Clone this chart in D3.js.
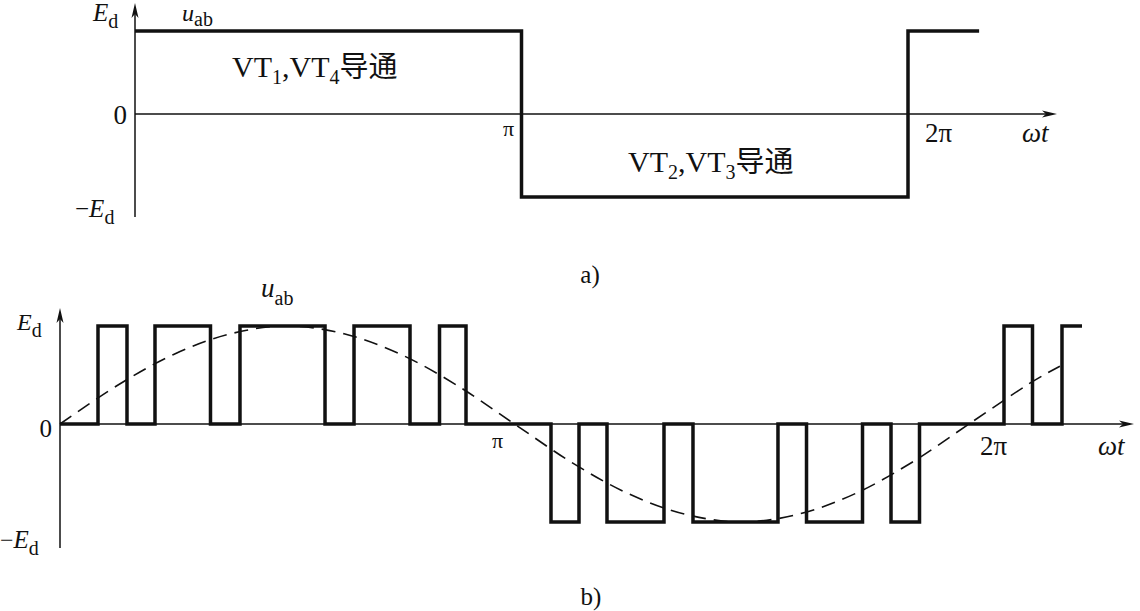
<!DOCTYPE html>
<html>
<head>
<meta charset="utf-8">
<script src="https://cdn.jsdelivr.net/npm/d3@7/dist/d3.min.js"></script>
<style>
  body { margin: 0; background: #fff; }
  svg { display: block; }
</style>
</head>
<body>
<div id="chart"></div>
<script>
// times are in units of π, levels in units of Ed

// a) square wave u_ab
const squareTimes = [0, 1, 2, 2.184];
const squareLevels = [1, -1, 1, 1];

// b) PWM wave u_ab (switching instants)
const pwmTimes = [0, 0.0836, 0.1474, 0.2090, 0.3311, 0.3960, 0.5831, 0.6469, 0.7701, 0.8350, 0.8933,
  1.0803, 1.1419, 1.2035, 1.3289, 1.3927, 1.5797, 1.6425, 1.7657, 1.8284, 1.8911,
  2.0770, 2.1397, 2.2046, 2.2486];
const pwmLevels = [0, 1, 0, 1, 0, 1, 0, 1, 0, 1, 0,
  -1, 0, -1, 0, -1, 0, -1, 0, -1, 0,
  1, 0, 1, 1];

// b) dashed modulating wave, read off every π/8
const refTimes = [0, 0.125, 0.25, 0.375, 0.5, 0.625, 0.75, 0.875, 1, 1.125, 1.25, 1.375, 1.5,
  1.625, 1.75, 1.875, 2, 2.125, 2.2];
const refValues = [0, 0.39, 0.71, 0.92, 1, 0.92, 0.71, 0.39, 0, -0.39, -0.71, -0.92, -1,
  -0.92, -0.71, -0.39, 0, 0.39, 0.59];

// labels
const xTickValues = [1, 2];
const xTickLabels = ['π', '2π'];
const topNotes = ['VT', '1', ',VT', '4', '导通'];
const bottomNotes = ['VT', '2', ',VT', '3', '导通'];

const W = 1140, H = 611;
const ink = '#111';
const serif = "'Liberation Serif', 'Times New Roman', Times, serif";
const cjk = "'Noto Sans CJK SC', 'Noto Sans CJK JP', sans-serif";

let svg = d3.select('#chart').append('svg')
  .attr('width', W)
  .attr('height', H);

// text helper: parts = [{t, s, i, dy, f}]
function label(g, x, y, parts, anchor) {
  let t = g.append('text')
    .attr('x', x)
    .attr('y', y)
    .attr('fill', ink)
    .attr('font-family', serif)
    .style('font-family', serif)
    .attr('text-anchor', anchor || 'start');
  parts.forEach(p => {
    let s = t.append('tspan')
      .text(p.t)
      .attr('font-size', p.s + 'px')
      .attr('dy', p.dy || 0);
    if (p.i) s.attr('font-style', 'italic');
    if (p.f) s.attr('font-family', p.f).style('font-family', p.f);
  });
  return t;
}

function arrow(g, x, y, dir) {
  // dir: 'up' or 'right'
  let p = dir === 'up'
    ? [[x, y], [x - 3.5, y + 15], [x, y + 11], [x + 3.5, y + 15]]
    : [[x, y], [x - 15, y - 3.5], [x - 11, y], [x - 15, y + 3.5]];
  g.append('path')
    .attr('d', 'M' + p.join('L') + 'Z')
    .attr('fill', ink);
}

function axes(g, x, y, yTop, yBottom, xEnd) {
  g.append('line')
    .attr('x1', x(0)).attr('x2', x(0))
    .attr('y1', yTop + 4).attr('y2', yBottom)
    .attr('stroke', ink).attr('stroke-width', 1.5);
  g.append('line')
    .attr('x1', x(0)).attr('x2', xEnd - 4)
    .attr('y1', y(0)).attr('y2', y(0))
    .attr('stroke', ink).attr('stroke-width', 1.5);
  arrow(g, x(0), yTop, 'up');
  arrow(g, xEnd, y(0), 'right');
}

const step = (x, y) => d3.line()
  .x(d => x(d[0]))
  .y(d => y(d[1]))
  .curve(d3.curveStepAfter);

// ---------- a) ----------
let ga = svg.append('g').attr('class', 'chart-a');
let xa = d3.scaleLinear().domain([0, 2]).range([135, 908]);
let ya = d3.scaleLinear().domain([-1, 1]).range([197, 31]);

axes(ga, xa, ya, 3, 217, 1057);

ga.append('path')
  .datum(d3.zip(squareTimes, squareLevels))
  .attr('d', step(xa, ya))
  .attr('fill', 'none')
  .attr('stroke', ink)
  .attr('stroke-width', 3.5)
  .attr('stroke-linejoin', 'miter');

// axis labels
label(ga, xa(0) - 42, ya(1) - 10, [{t: 'E', s: 25, i: true}, {t: 'd', s: 20, dy: 7}]);
label(ga, xa(0) + 47, 21, [{t: 'u', s: 24, i: true}, {t: 'ab', s: 20, dy: 5}]);
label(ga, xa(0) - 8, ya(0) + 10, [{t: '0', s: 27}], 'end');
label(ga, xa(0) - 60, ya(-1) + 20, [{t: '−', s: 25}, {t: 'E', s: 25, i: true}, {t: 'd', s: 20, dy: 7}]);
label(ga, xa(xTickValues[0]) - 13, ya(0) + 22, [{t: xTickLabels[0], s: 22}], 'middle');
label(ga, xa(xTickValues[1]) + 17, ya(0) + 28, [{t: xTickLabels[1], s: 27}]);
label(ga, xa(2) + 114, ya(0) + 28, [{t: 'ωt', s: 27, i: true}]);

// conduction notes
label(ga, 232, 77, [
  {t: topNotes[0], s: 30}, {t: topNotes[1], s: 20, dy: 7}, {t: topNotes[2], s: 30, dy: -7},
  {t: topNotes[3], s: 20, dy: 7}, {t: topNotes[4], s: 29, dy: -7, f: cjk}
]);
label(ga, 628, 172, [
  {t: bottomNotes[0], s: 30}, {t: bottomNotes[1], s: 20, dy: 7}, {t: bottomNotes[2], s: 30, dy: -7},
  {t: bottomNotes[3], s: 20, dy: 7}, {t: bottomNotes[4], s: 29, dy: -7, f: cjk}
]);

label(svg, 590, 283, [{t: 'a)', s: 25}], 'middle');

// ---------- b) ----------
let gb = svg.append('g').attr('class', 'chart-b');
let xb = d3.scaleLinear().domain([0, 2]).range([60, 969]);
let yb = d3.scaleLinear().domain([-1, 1]).range([522, 326]);

axes(gb, xb, yb, 308, 548, 1134);

// dashed modulating wave
gb.append('path')
  .datum(d3.zip(refTimes, refValues))
  .attr('d', d3.line().x(d => xb(d[0])).y(d => yb(d[1])).curve(d3.curveCardinal))
  .attr('fill', 'none')
  .attr('stroke', ink)
  .attr('stroke-width', 1.6)
  .attr('stroke-dasharray', '14,8');

// PWM
gb.append('path')
  .datum(d3.zip(pwmTimes, pwmLevels))
  .attr('d', step(xb, yb))
  .attr('fill', 'none')
  .attr('stroke', ink)
  .attr('stroke-width', 3.5)
  .attr('stroke-linejoin', 'miter');

label(gb, xb(0) - 43, yb(1) + 4, [{t: 'E', s: 24, i: true}, {t: 'd', s: 20, dy: 7}]);
label(gb, 261, 297, [{t: 'u', s: 27, i: true}, {t: 'ab', s: 20, dy: 8}]);
label(gb, xb(0) - 8, yb(0) + 13, [{t: '0', s: 25}], 'end');
label(gb, xb(0) - 60, yb(-1) + 26, [{t: '−', s: 24}, {t: 'E', s: 25, i: true}, {t: 'd', s: 20, dy: 7}]);
label(gb, xb(xTickValues[0]) - 17, yb(0) + 24, [{t: xTickLabels[0], s: 22}], 'middle');
label(gb, xb(xTickValues[1]) + 11, yb(0) + 31, [{t: xTickLabels[1], s: 27}]);
label(gb, xb(2) + 129, yb(0) + 31, [{t: 'ωt', s: 27, i: true}]);

label(svg, 591, 605, [{t: 'b)', s: 25}], 'middle');
</script>
</body>
</html>
